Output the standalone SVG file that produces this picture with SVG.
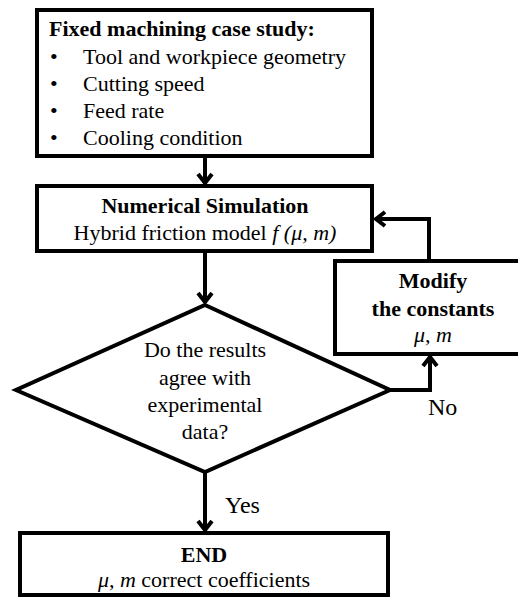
<svg xmlns="http://www.w3.org/2000/svg" width="518" height="599" viewBox="0 0 518 599">
<style>
.box{fill:#fff;stroke:#000;stroke-width:4}
.t{font-family:"Liberation Serif","Times New Roman",serif;font-size:22px;fill:#000}
.b{font-weight:bold}
.c{text-anchor:middle}
.i{font-style:italic}
.con{fill:none;stroke:#000;stroke-width:4}
</style>
<defs>
<marker id="ah" markerUnits="userSpaceOnUse" viewBox="-14 -10 16 20" markerWidth="16" markerHeight="20" refX="0" refY="0" orient="auto" overflow="visible">
<path d="M-10,-7 L-1,0 L-10,7" fill="none" stroke="#000" stroke-width="4" stroke-linejoin="miter"/>
</marker>
</defs>
<rect width="518" height="599" fill="#fff"/>
<g id="connectors">
<path class="con" d="M205,156 V184" marker-end="url(#ah)"/>
<path class="con" d="M205,251 V303" marker-end="url(#ah)"/>
<path class="con" d="M205,472 V531" marker-end="url(#ah)"/>
<path class="con" d="M388,390 H430 V356" marker-end="url(#ah)"/>
<path class="con" d="M429,261 V219 H375" marker-end="url(#ah)"/>
<text class="t" x="428" y="415" style="font-size:24px">No</text>
<text class="t" x="225" y="513" style="font-size:24px">Yes</text>
</g>
<g id="case">
<rect class="box" x="37" y="10" width="335" height="146"/>
<text class="t b" x="49" y="36">Fixed machining  case study:</text>
<text class="t" x="50" y="64">•</text><text class="t" x="83" y="64">Tool and workpiece geometry</text>
<text class="t" x="50" y="91">•</text><text class="t" x="83" y="91">Cutting speed</text>
<text class="t" x="50" y="118">•</text><text class="t" x="83" y="118">Feed rate</text>
<text class="t" x="50" y="145">•</text><text class="t" x="83" y="145">Cooling condition</text>
</g>
<g id="simulation">
<rect class="box" x="37" y="186" width="335" height="65"/>
<text class="t b c" x="205" y="213">Numerical Simulation</text>
<text class="t c" x="205" y="240">Hybrid friction model <tspan class="i">f (μ, m)</tspan></text>
</g>
<g id="modify">
<rect class="box" x="335" y="261" width="200" height="93"/>
<text class="t b c" x="433" y="288">Modify</text>
<text class="t b c" x="433" y="316">the constants</text>
<text class="t i c" x="433" y="342">μ, m</text>
</g>
<g id="decision">
<polygon class="box" points="205,305 390,390 205,472 16,390"/>
<text class="t c" x="205" y="357">Do the results</text>
<text class="t c" x="205" y="385">agree with</text>
<text class="t c" x="205" y="412">experimental</text>
<text class="t c" x="205" y="439">data?</text>
</g>
<g id="end">
<rect class="box" x="20" y="533" width="368" height="62"/>
<text class="t b c" x="204" y="562">END</text>
<text class="t c" x="204" y="587"><tspan class="i">μ, m</tspan> correct coefficients</text>
</g>
</svg>
